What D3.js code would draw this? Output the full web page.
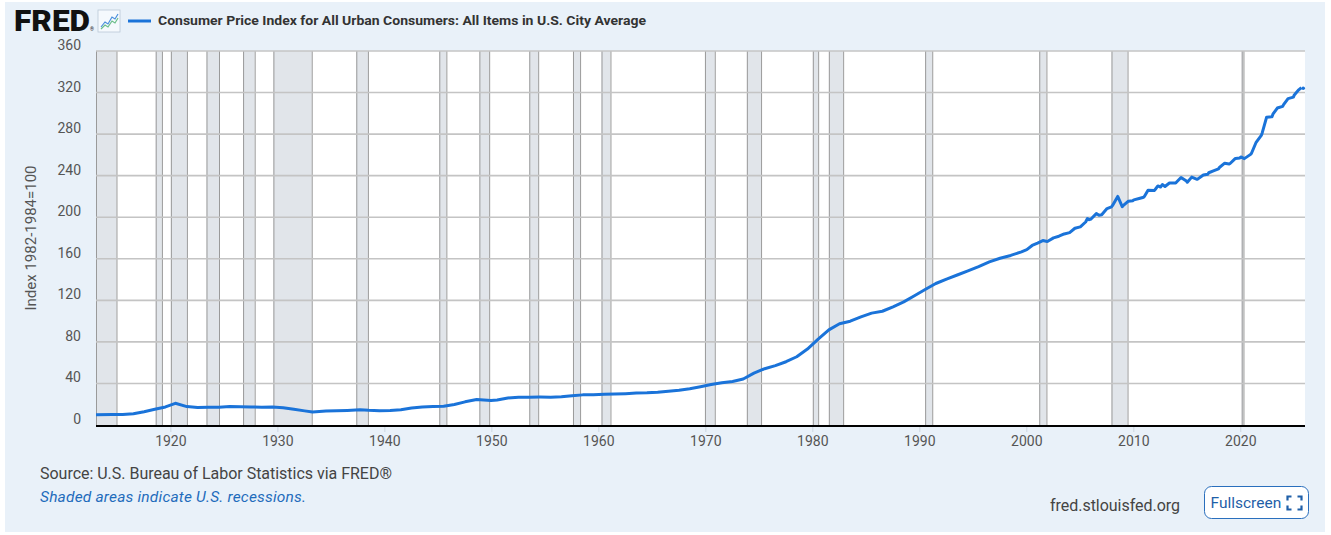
<!DOCTYPE html>
<html>
<head>
<meta charset="utf-8">
<script src="https://cdn.jsdelivr.net/npm/d3@7"></script>
<style>
  html, body { margin: 0; padding: 0; background: #fff; }
  svg { display: block; font-family: Roboto, "Noto Sans", sans-serif; }
</style>
</head>
<body>
<div id="main-container"></div>
<script>
// Series data (CPI-U, not seasonally adjusted, 1982-1984=100)
const DATES = [
  '1913-01','1914-07','1915-07','1916-07','1917-07','1918-07','1919-07','1920-06','1921-07','1922-07',
  '1923-07','1924-07','1925-07','1926-07','1927-07','1928-07','1929-07','1930-07','1931-07','1932-07',
  '1933-04','1934-07','1935-07','1936-07','1937-09','1938-07','1939-07','1940-07','1941-07','1942-07',
  '1943-07','1944-07','1945-07','1946-07','1947-07','1948-08','1949-12','1950-07','1951-07','1952-07',
  '1953-07','1954-07','1955-07','1956-07','1957-07','1958-07','1959-07','1960-07','1961-07','1962-07',
  '1963-07','1964-07','1965-07','1966-07','1967-07','1968-07','1969-07','1970-07','1971-07','1972-07',
  '1973-07','1974-07','1975-07','1976-07','1977-07','1978-07','1979-07','1980-07','1981-07','1982-07',
  '1983-07','1984-07','1985-07','1986-07','1987-07','1988-07','1989-07','1990-07','1991-07','1992-07',
  '1993-07','1994-07','1995-07','1996-07','1997-07','1998-07','1999-07',
  '2000-01','2000-07','2001-01','2001-07','2001-12','2002-01','2002-07','2003-01','2003-07','2004-01',
  '2004-07','2005-01','2005-07','2005-09','2005-11','2006-01','2006-07','2006-10','2007-01','2007-07',
  '2007-12','2008-01','2008-07','2008-12','2009-01','2009-07','2009-12','2010-01','2010-07','2010-12',
  '2011-01','2011-05','2011-12','2012-01','2012-04','2012-07','2012-09','2012-12','2013-01','2013-05',
  '2013-12','2014-01','2014-06','2014-12','2015-01','2015-06','2015-12','2016-01','2016-07','2016-12',
  '2017-01','2017-07','2017-12','2018-01','2018-07','2018-12','2019-01','2019-07','2019-12','2020-01',
  '2020-05','2020-12','2021-01','2021-06','2021-12','2022-01','2022-06','2022-12','2023-01','2023-06',
  '2023-12','2024-01','2024-06','2024-12','2025-01','2025-06','2025-09','2025-10','2025-11'
];
const CPI = [
  9.8,10.0,10.1,10.9,12.8,15.1,17.4,20.9,17.7,16.8,
  17.2,17.1,17.7,17.5,17.3,17.1,17.3,16.6,15.1,13.6,
  12.6,13.4,13.7,14.0,14.6,14.1,13.8,14.0,14.7,16.4,
  17.4,17.7,18.1,19.8,22.3,24.5,23.6,24.1,26.0,26.7,
  26.8,26.9,26.8,27.2,28.2,29.0,29.2,29.6,29.9,30.2,
  30.7,31.0,31.6,32.5,33.4,34.9,36.8,38.9,40.6,41.9,
  44.3,49.9,54.2,57.1,60.9,65.7,73.1,82.7,91.6,97.5,
  99.9,104.1,107.7,109.5,113.8,118.5,124.4,130.4,136.2,140.5,
  144.4,148.4,152.5,157.0,160.5,163.2,166.7,
  168.8,172.8,175.1,177.5,176.7,177.1,180.1,181.7,183.9,185.2,
  189.4,190.7,195.4,198.8,197.6,198.3,203.5,201.8,202.4,208.3,
  210.0,211.1,220.0,210.2,211.1,215.4,215.9,216.7,218.0,219.2,
  220.2,225.9,225.7,226.7,230.1,229.1,231.4,229.6,230.3,232.9,
  233.0,233.9,238.3,234.8,233.7,238.6,236.5,236.9,240.6,241.4,
  242.8,244.8,246.5,247.9,252.0,251.2,251.7,256.6,257.0,258.0,
  256.4,260.5,261.6,271.7,278.8,281.1,296.3,296.8,299.2,305.1,
  306.7,308.4,314.2,315.6,317.7,322.6,324.8,null,324.1
];

// NBER recessions [peak, trough]
const RECESSIONS = [
  ['1913-01','1914-12'],['1918-08','1919-03'],['1920-01','1921-07'],['1923-05','1924-07'],
  ['1926-10','1927-11'],['1929-08','1933-03'],['1937-05','1938-06'],['1945-02','1945-10'],
  ['1948-11','1949-10'],['1953-07','1954-05'],['1957-08','1958-04'],['1960-04','1961-02'],
  ['1969-12','1970-11'],['1973-11','1975-03'],['1980-01','1980-07'],['1981-07','1982-11'],
  ['1990-07','1991-03'],['2001-03','2001-11'],['2007-12','2009-06'],['2020-02','2020-04']
];

const Y_TICKS = [0, 40, 80, 120, 160, 200, 240, 280, 320, 360];
const X_TICK_YEARS = [1920, 1930, 1940, 1950, 1960, 1970, 1980, 1990, 2000, 2010, 2020];

const TITLE = 'Consumer Price Index for All Urban Consumers: All Items in U.S. City Average';
const Y_LABEL = 'Index 1982-1984=100';
const LINE_COLOR = '#1a73d9';

const W = 1331, H = 535;
const PLOT = { left: 96, right: 1305, top: 51, bottom: 425 };

const parse = d3.timeParse('%Y-%m');
const DATA = DATES.map((d, i) => ({ date: parse(d), value: CPI[i] }));

const SVG = d3.select('#main-container').append('svg')
  .attr('width', W)
  .attr('height', H);

// Panel background
SVG.append('rect')
  .attr('x', 5).attr('y', 2)
  .attr('width', 1320).attr('height', 530)
  .attr('fill', '#e9f1f9');

const X = d3.scaleTime()
  .domain([parse('1913-01'), parse('2026-01')])
  .range([PLOT.left, PLOT.right]);

const Y = d3.scaleLinear()
  .domain([0, 360])
  .range([PLOT.bottom, PLOT.top]);

// Plot area
SVG.append('rect')
  .attr('x', PLOT.left).attr('y', PLOT.top)
  .attr('width', PLOT.right - PLOT.left)
  .attr('height', PLOT.bottom - PLOT.top)
  .attr('fill', '#fff');

// Recession bands
const BANDS = SVG.append('g').selectAll('g')
  .data(RECESSIONS)
  .join('g');

BANDS.append('rect')
  .attr('x', d => X(parse(d[0])))
  .attr('y', PLOT.top)
  .attr('width', d => Math.max(1, X(parse(d[1])) - X(parse(d[0]))))
  .attr('height', PLOT.bottom - PLOT.top)
  .attr('fill', '#e1e5ea');

BANDS.selectAll('line')
  .data(d => [d[0], d[1]])
  .join('line')
  .attr('x1', d => X(parse(d)) + 0.5)
  .attr('x2', d => X(parse(d)) + 0.5)
  .attr('y1', PLOT.top)
  .attr('y2', PLOT.bottom)
  .attr('stroke', '#9a9a9a')
  .attr('stroke-width', 1);

// Horizontal grid
SVG.append('g').selectAll('line')
  .data(Y_TICKS.filter(d => d > 0))
  .join('line')
  .attr('x1', PLOT.left).attr('x2', PLOT.right)
  .attr('y1', d => Y(d)).attr('y2', d => Y(d))
  .attr('stroke', '#c4c4c4')
  .attr('stroke-width', 1.6);

// Y tick labels
SVG.append('g').selectAll('text')
  .data(Y_TICKS)
  .join('text')
  .attr('x', 81)
  .attr('y', d => Y(d) - 1)
  .attr('text-anchor', 'end')
  .attr('fill', '#555')
  .style('font-size', '14px')
  .text(d => d);

// Y title
SVG.append('text')
  .attr('transform', `translate(36, ${(PLOT.top + PLOT.bottom) / 2}) rotate(-90)`)
  .attr('text-anchor', 'middle')
  .attr('fill', '#555')
  .style('font-size', '15px')
  .text(Y_LABEL);

// X ticks and labels
const X_TICKS = X_TICK_YEARS.map(y => new Date(y, 0, 1));
SVG.append('g').selectAll('line')
  .data(X_TICKS)
  .join('line')
  .attr('x1', d => X(d)).attr('x2', d => X(d))
  .attr('y1', PLOT.bottom).attr('y2', PLOT.bottom + 7)
  .attr('stroke', '#ccd6e0')
  .attr('stroke-width', 1);

SVG.append('g').selectAll('text')
  .data(X_TICKS)
  .join('text')
  .attr('x', d => X(d))
  .attr('y', 446)
  .attr('text-anchor', 'middle')
  .attr('fill', '#555')
  .style('font-size', '14px')
  .text(d => d.getFullYear());

// X axis line
SVG.append('line')
  .attr('x1', PLOT.left).attr('x2', PLOT.right)
  .attr('y1', PLOT.bottom + 1).attr('y2', PLOT.bottom + 1)
  .attr('stroke', '#000')
  .attr('stroke-width', 2);

// Series line
const LINE = d3.line()
  .defined(d => d.value != null)
  .x(d => X(d.date))
  .y(d => Y(d.value));

SVG.append('path')
  .datum(DATA)
  .attr('fill', 'none')
  .attr('stroke', LINE_COLOR)
  .attr('stroke-width', 3)
  .attr('stroke-linejoin', 'round')
  .attr('d', LINE);

// Isolated points after a gap
const LONE = DATA.filter((d, i) => d.value != null &&
  (i === 0 || DATA[i - 1].value == null) &&
  (i === DATA.length - 1 || DATA[i + 1].value == null));
SVG.append('g').selectAll('circle')
  .data(LONE)
  .join('circle')
  .attr('cx', d => X(d.date))
  .attr('cy', d => Y(d.value))
  .attr('r', 1.8)
  .attr('fill', LINE_COLOR);

// Header: FRED logo
const HEADER = SVG.append('g');
HEADER.append('text')
  .attr('x', 14).attr('y', 31)
  .attr('fill', '#111')
  .style('font-size', '29px')
  .style('font-weight', '900')
  .attr('textLength', 76)
  .attr('lengthAdjust', 'spacingAndGlyphs')
  .text('FRED');
HEADER.append('text')
  .attr('x', 90).attr('y', 31)
  .attr('fill', '#111')
  .style('font-size', '5px')
  .text('®');

// Logo icon
const ICON = HEADER.append('g').attr('transform', 'translate(98, 10)');
ICON.append('rect')
  .attr('width', 22).attr('height', 22)
  .attr('fill', '#f5f9fd')
  .attr('stroke', '#b9c8d8')
  .attr('stroke-width', 0.8);
ICON.append('path')
  .attr('d', 'M3,17 L7,12 L10,14 L14,7 L17,9 L20,4')
  .attr('fill', 'none').attr('stroke', '#4a8fdc').attr('stroke-width', 1.2);
ICON.append('path')
  .attr('d', 'M3,19 L7,15 L10,17 L14,11 L17,13 L20,8')
  .attr('fill', 'none').attr('stroke', '#6bbf8a').attr('stroke-width', 1.2);

// Legend
HEADER.append('line')
  .attr('x1', 128).attr('x2', 151)
  .attr('y1', 21).attr('y2', 21)
  .attr('stroke', LINE_COLOR)
  .attr('stroke-width', 3);
HEADER.append('text')
  .attr('x', 158).attr('y', 25)
  .attr('fill', '#333')
  .style('font-size', '12.5px')
  .style('font-weight', '700')
  .attr('textLength', 488)
  .attr('lengthAdjust', 'spacingAndGlyphs')
  .text(TITLE);

// Footer
SVG.append('text')
  .attr('x', 40).attr('y', 479)
  .attr('fill', '#444')
  .style('font-size', '16px')
  .attr('textLength', 352)
  .text('Source: U.S. Bureau of Labor Statistics via FRED®');
SVG.append('text')
  .attr('x', 40).attr('y', 502)
  .attr('fill', '#1f6cbc')
  .style('font-size', '15.5px')
  .style('font-style', 'italic')
  .attr('textLength', 266)
  .text('Shaded areas indicate U.S. recessions.');
SVG.append('text')
  .attr('x', 1050).attr('y', 511)
  .attr('fill', '#444')
  .style('font-size', '16px')
  .attr('textLength', 130)
  .text('fred.stlouisfed.org');

// Fullscreen button
const BTN = SVG.append('g').attr('transform', 'translate(1204.5, 486.5)');
BTN.append('rect')
  .attr('width', 104).attr('height', 32)
  .attr('rx', 7)
  .attr('fill', '#fff')
  .attr('stroke', '#2a6fbd')
  .attr('stroke-width', 1);
BTN.append('text')
  .attr('x', 6).attr('y', 21)
  .attr('fill', '#1f5fa8')
  .style('font-size', '15.5px')
  .text('Fullscreen');
BTN.append('path')
  .attr('d', 'M83,14 V10 H87 M93,10 H97 V14 M97,19 V23 H93 M87,23 H83 V19')
  .attr('fill', 'none')
  .attr('stroke', '#1f5fa8')
  .attr('stroke-width', 2.2);
</script>
</body>
</html>
